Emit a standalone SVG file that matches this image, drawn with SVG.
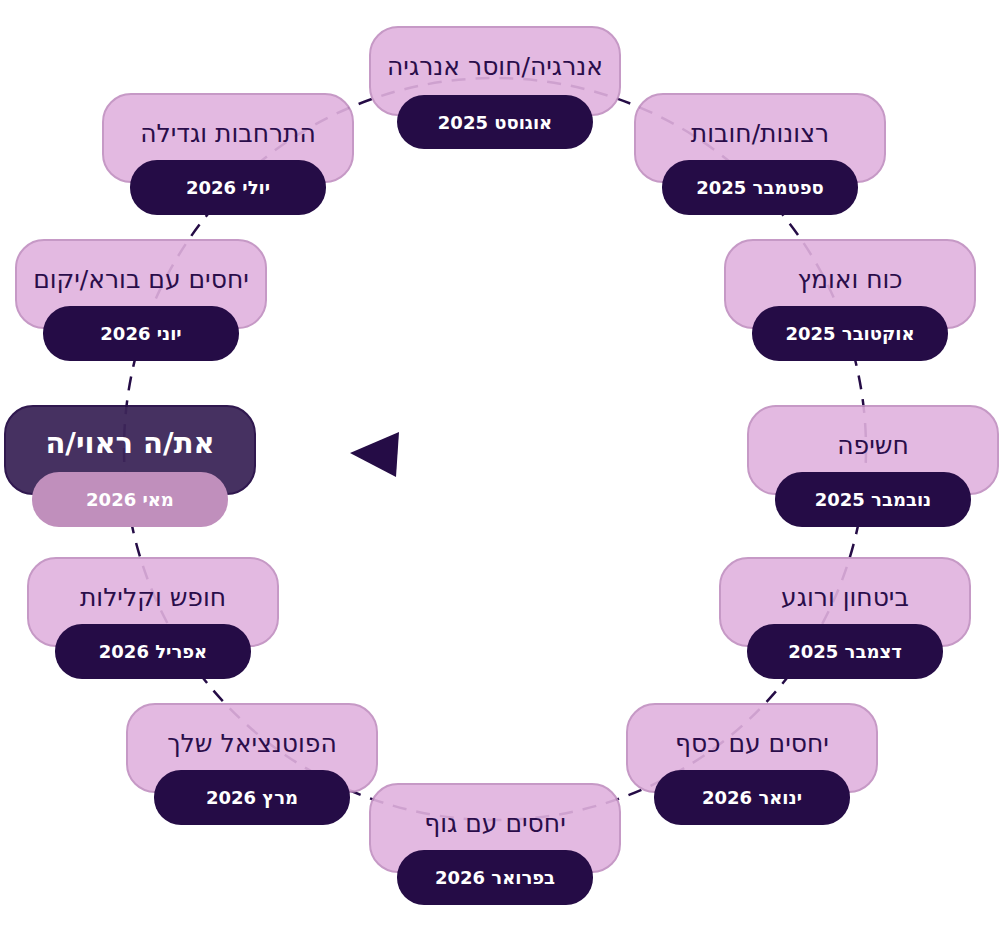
<svg xmlns="http://www.w3.org/2000/svg" width="1000" height="931" viewBox="0 0 1000 931">
<style>
.box{fill:#e1b2de;stroke:#c08fc0;stroke-width:2;opacity:0.9}
.pill{fill:#250c46}
.t{font-family:"DejaVu Sans","Noto Sans",sans-serif;font-size:25px;fill:#2a0d4a;text-anchor:middle}
.d{font-family:"DejaVu Sans","Noto Sans",sans-serif;font-size:18px;font-weight:bold;fill:#ffffff;text-anchor:middle}
</style>
<rect width="1000" height="931" fill="#ffffff"/>
<g id="connectors">
<circle cx="495" cy="449" r="371" fill="none" stroke="#250c46" stroke-width="2.5" stroke-dasharray="14,10"/>
<polygon points="350,453 399,432 396,477" fill="#250c46"/>
</g>
<g id="n-aug"><rect class="box" x="370" y="27" width="250" height="88" rx="28"/><text class="t" x="495" y="75" direction="rtl">אנרגיה/חוסר אנרגיה</text><rect class="pill" x="397" y="95" width="196" height="54" rx="27"/><text class="d" x="495" y="129">אוגוסט 2025</text></g>
<g id="n-sep"><rect class="box" x="635" y="94" width="250" height="88" rx="28"/><text class="t" x="760" y="142">רצונות/חובות</text><rect class="pill" x="662" y="160" width="196" height="55" rx="27"/><text class="d" x="760" y="194">ספטמבר 2025</text></g>
<g id="n-oct"><rect class="box" x="725" y="240" width="250" height="88" rx="28"/><text class="t" x="850" y="288">כוח ואומץ</text><rect class="pill" x="752" y="306" width="196" height="55" rx="27"/><text class="d" x="850" y="340">אוקטובר 2025</text></g>
<g id="n-nov"><rect class="box" x="748" y="406" width="250" height="88" rx="28"/><text class="t" x="873" y="454">חשיפה</text><rect class="pill" x="775" y="472" width="196" height="55" rx="27"/><text class="d" x="873" y="506">נובמבר 2025</text></g>
<g id="n-dec"><rect class="box" x="720" y="558" width="250" height="88" rx="28"/><text class="t" x="845" y="606">ביטחון ורוגע</text><rect class="pill" x="747" y="624" width="196" height="55" rx="27"/><text class="d" x="845" y="658">דצמבר 2025</text></g>
<g id="n-jan"><rect class="box" x="627" y="704" width="250" height="88" rx="28"/><text class="t" x="752" y="752">יחסים עם כסף</text><rect class="pill" x="654" y="770" width="196" height="55" rx="27"/><text class="d" x="752" y="804">ינואר 2026</text></g>
<g id="n-feb"><rect class="box" x="370" y="784" width="250" height="88" rx="28"/><text class="t" x="495" y="832">יחסים עם גוף</text><rect class="pill" x="397" y="850" width="196" height="55" rx="27"/><text class="d" x="495" y="884">בפרואר 2026</text></g>
<g id="n-mar"><rect class="box" x="127" y="704" width="250" height="88" rx="28"/><text class="t" x="252" y="752">הפוטנציאל שלך</text><rect class="pill" x="154" y="770" width="196" height="55" rx="27"/><text class="d" x="252" y="804">מרץ 2026</text></g>
<g id="n-apr"><rect class="box" x="28" y="558" width="250" height="88" rx="28"/><text class="t" x="153" y="606">חופש וקלילות</text><rect class="pill" x="55" y="624" width="196" height="55" rx="27"/><text class="d" x="153" y="658">אפריל 2026</text></g>
<g id="n-may"><rect x="5" y="406" width="250" height="88" rx="28" fill="#3d2659" stroke="#250c46" stroke-width="2" opacity="0.95"/><text class="t" x="130" y="453" style="fill:#fff;font-weight:bold;font-size:29px" direction="rtl">את/ה ראוי/ה</text><rect x="32" y="472" width="196" height="55" rx="27" fill="#c08fbc"/><text class="d" x="130" y="506">מאי 2026</text></g>
<g id="n-jun"><rect class="box" x="16" y="240" width="250" height="88" rx="28"/><text class="t" x="141" y="288" direction="rtl">יחסים עם בורא/יקום</text><rect class="pill" x="43" y="306" width="196" height="55" rx="27"/><text class="d" x="141" y="340">יוני 2026</text></g>
<g id="n-jul"><rect class="box" x="103" y="94" width="250" height="88" rx="28"/><text class="t" x="228" y="142">התרחבות וגדילה</text><rect class="pill" x="130" y="160" width="196" height="55" rx="27"/><text class="d" x="228" y="194">יולי 2026</text></g>
</svg>
